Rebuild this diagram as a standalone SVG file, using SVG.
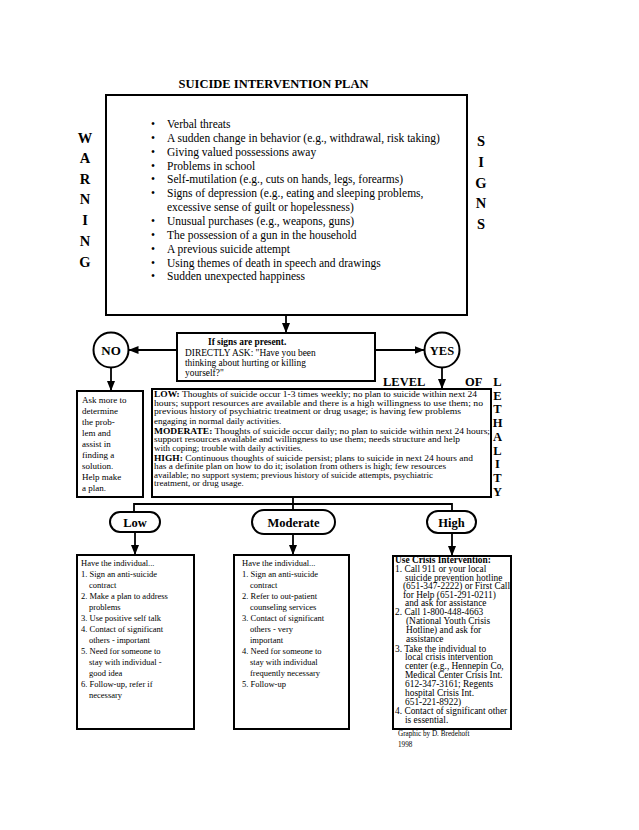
<svg xmlns="http://www.w3.org/2000/svg" width="639" height="830" viewBox="0 0 639 830">
<style>
text{font-family:"Liberation Serif","Times New Roman",serif;fill:#000}
.b{font-weight:bold}
.box{fill:#fff;stroke:#000;stroke-width:2}
.ln{fill:none;stroke:#000;stroke-width:1.8}
.big{font-size:14.5px;font-weight:bold;text-anchor:middle}
.sg{font-size:11.5px}
.q{font-size:9.4px}
.lt{font-size:9px}
.lv{font-size:12.5px;font-weight:bold}
.sm{font-size:8.5px}
.hi{font-size:9.4px}
.pl{font-size:12.5px;font-weight:bold;text-anchor:middle}
</style>
<defs>
<marker id="ah" viewBox="0 0 10 8" refX="10" refY="4" markerWidth="10" markerHeight="8" markerUnits="userSpaceOnUse" orient="auto">
<path d="M0,0 L10,4 L0,8 z" fill="#000"/>
</marker>
</defs>
<rect width="639" height="830" fill="#fff"/>
<text x="273.5" y="88" class="b" font-size="12.5" text-anchor="middle">SUICIDE INTERVENTION PLAN</text>

<g id="warning-signs">
<rect class="box" x="106" y="95" width="361" height="220"/>
<g class="sg">
<text x="151" y="128">•</text><text x="167" y="128">Verbal threats</text>
<text x="151" y="141.9">•</text><text x="167" y="141.9">A sudden change in behavior (e.g., withdrawal, risk taking)</text>
<text x="151" y="155.7">•</text><text x="167" y="155.7">Giving valued possessions away</text>
<text x="151" y="169.6">•</text><text x="167" y="169.6">Problems in school</text>
<text x="151" y="183.4">•</text><text x="167" y="183.4">Self-mutilation (e.g., cuts on hands, legs, forearms)</text>
<text x="151" y="197.3">•</text><text x="167" y="197.3">Signs of depression (e.g., eating and sleeping problems,</text>
<text x="167" y="211.1">excessive sense of guilt or hopelessness)</text>
<text x="151" y="225">•</text><text x="167" y="225">Unusual purchases (e.g., weapons, guns)</text>
<text x="151" y="238.8">•</text><text x="167" y="238.8">The possession of a gun in the household</text>
<text x="151" y="252.7">•</text><text x="167" y="252.7">A previous suicide attempt</text>
<text x="151" y="266.5">•</text><text x="167" y="266.5">Using themes of death in speech and drawings</text>
<text x="151" y="280.4">•</text><text x="167" y="280.4">Sudden unexpected happiness</text>
</g>
<g class="big">
<text x="85" y="143">W</text><text x="85" y="163">A</text><text x="85" y="183.5">R</text><text x="85" y="204">N</text><text x="85" y="225">I</text><text x="85" y="246">N</text><text x="85" y="267">G</text>
<text x="481" y="146">S</text><text x="481" y="167">I</text><text x="481" y="188">G</text><text x="481" y="208">N</text><text x="481" y="229">S</text>
</g>
</g>

<g id="connectors">
<line class="ln" x1="286" y1="315" x2="286" y2="333" marker-end="url(#ah)"/>
<line class="ln" x1="177" y1="350" x2="128.5" y2="350" marker-end="url(#ah)"/>
<line class="ln" x1="375" y1="350" x2="424.5" y2="350" marker-end="url(#ah)"/>
<line class="ln" x1="111" y1="367.5" x2="111" y2="391" marker-end="url(#ah)"/>
<line class="ln" x1="442" y1="367.5" x2="442" y2="389" marker-end="url(#ah)"/>
<polyline class="ln" points="293,497 293,510"/>
<polyline class="ln" points="134,512 134,504 452,504 452,511"/>
<line class="ln" x1="135" y1="532" x2="135" y2="555" marker-end="url(#ah)"/>
<line class="ln" x1="293" y1="534" x2="293" y2="555" marker-end="url(#ah)"/>
<line class="ln" x1="452" y1="533" x2="452" y2="556" marker-end="url(#ah)"/>
</g>

<g id="question">
<rect class="box" x="177" y="333" width="198" height="48"/>
<text x="208" y="345" class="q b">If signs are present.</text>
<text x="185" y="356" class="q">DIRECTLY ASK: "Have you been</text>
<text x="185" y="366" class="q">thinking about hurting or killing</text>
<text x="185" y="376" class="q">yourself?"</text>
</g>

<g id="no">
<circle cx="111" cy="350" r="17.5" fill="#fff" stroke="#000" stroke-width="2"/>
<text x="111" y="355" class="b" font-size="13" text-anchor="middle">NO</text>
</g>
<g id="yes">
<circle cx="442" cy="350" r="17.5" fill="#fff" stroke="#000" stroke-width="2"/>
<text x="442" y="355" class="b" font-size="12.5" text-anchor="middle">YES</text>
</g>

<g id="ask-more">
<rect class="box" x="77" y="391" width="66" height="106"/>
<g class="lt">
<text x="82" y="403">Ask more to</text>
<text x="82" y="414">determine</text>
<text x="82" y="425">the prob-</text>
<text x="82" y="436">lem and</text>
<text x="82" y="447">assist in</text>
<text x="82" y="458">finding a</text>
<text x="82" y="469">solution.</text>
<text x="82" y="480">Help make</text>
<text x="82" y="491">a plan.</text>
</g>
</g>

<g id="lethality">
<rect class="box" x="152" y="389" width="339" height="108"/>
<g class="lt">
<text x="154" y="397" textLength="323" lengthAdjust="spacingAndGlyphs"><tspan class="b">LOW:</tspan> Thoughts of suicide occur 1-3 times weekly; no plan to suicide within next 24</text>
<text x="154" y="405.5" textLength="329" lengthAdjust="spacingAndGlyphs">hours; support resources are available and there is a high willingness to use them; no</text>
<text x="154" y="414" textLength="307" lengthAdjust="spacingAndGlyphs">previous history of psychiatric treatment or drug usage; is having few problems</text>
<text x="154" y="423.5">engaging in normal daily activities.</text>
<text x="154" y="433.5" textLength="336" lengthAdjust="spacingAndGlyphs"><tspan class="b">MODERATE:</tspan> Thoughts of suicide occur daily; no plan to suicide within next 24 hours;</text>
<text x="154" y="442" textLength="306" lengthAdjust="spacingAndGlyphs">support resources available and willingness to use them; needs structure and help</text>
<text x="154" y="451">with coping; trouble with daily activities.</text>
<text x="154" y="460.5" textLength="319" lengthAdjust="spacingAndGlyphs"><tspan class="b">HIGH:</tspan> Continuous thoughts of suicide persist; plans to suicide in next 24 hours and</text>
<text x="154" y="469" textLength="292" lengthAdjust="spacingAndGlyphs">has a definite plan on how to do it; isolation from others is high; few resources</text>
<text x="154" y="477.5" textLength="279" lengthAdjust="spacingAndGlyphs">available; no support system; previous history of suicide attempts, psychiatric</text>
<text x="154" y="486">treatment, or drug usage.</text>
</g>
<text x="383" y="386" class="lv">LEVEL</text>
<text x="465" y="386" class="lv">OF</text>
<g class="lv" text-anchor="middle">
<text x="497.5" y="386">L</text><text x="497.5" y="399.5">E</text><text x="497.5" y="413">T</text><text x="497.5" y="427">H</text><text x="497.5" y="441">A</text><text x="497.5" y="454.5">L</text><text x="497.5" y="468">I</text><text x="497.5" y="482">T</text><text x="497.5" y="496">Y</text>
</g>
</g>

<g id="low">
<rect class="box" x="110" y="512" width="50" height="20" rx="10"/>
<text x="135" y="527" class="pl">Low</text>
</g>
<g id="moderate">
<rect class="box" x="252" y="510" width="83" height="24" rx="12"/>
<text x="293.5" y="527" class="pl">Moderate</text>
</g>
<g id="high">
<rect class="box" x="427" y="511" width="49" height="22" rx="11"/>
<text x="451.5" y="526.5" class="pl">High</text>
</g>

<g id="low-actions">
<rect class="box" x="77" y="555" width="117" height="174"/>
<g class="sm">
<text x="81" y="566">Have the individual...</text>
<text x="81" y="577">1. Sign an anti-suicide</text>
<text x="89" y="588">contract</text>
<text x="81" y="599">2. Make a plan to address</text>
<text x="89" y="610">problems</text>
<text x="81" y="621">3. Use positive self talk</text>
<text x="81" y="632">4. Contact of significant</text>
<text x="89" y="643">others - important</text>
<text x="81" y="654">5. Need for someone to</text>
<text x="89" y="665">stay with individual -</text>
<text x="89" y="676">good idea</text>
<text x="81" y="687">6. Follow-up, refer if</text>
<text x="89" y="698">necessary</text>
</g>
</g>

<g id="moderate-actions">
<rect class="box" x="234" y="555" width="115" height="174"/>
<g class="sm">
<text x="242" y="566">Have the individual...</text>
<text x="242" y="577">1. Sign an anti-suicide</text>
<text x="250" y="588">contract</text>
<text x="242" y="599">2. Refer to out-patient</text>
<text x="250" y="610">counseling services</text>
<text x="242" y="621">3. Contact of significant</text>
<text x="250" y="632">others - very</text>
<text x="250" y="643">important</text>
<text x="242" y="654">4. Need for someone to</text>
<text x="250" y="665">stay with individual</text>
<text x="250" y="676">frequently necessary</text>
<text x="242" y="687">5. Follow-up</text>
</g>
</g>

<g id="high-actions">
<rect class="box" x="393" y="556" width="118" height="173"/>
<g class="hi">
<text x="395" y="563" class="b">Use Crisis Intervention:</text>
<text x="395" y="572">1. Call 911 or your local</text>
<text x="405" y="580.5">suicide prevention hotline</text>
<text x="403" y="589">(651-347-2222) or First Call</text>
<text x="403" y="597.5">for Help (651-291-0211)</text>
<text x="405" y="606">and ask for assistance</text>
<text x="395" y="615">2. Call 1-800-448-4663</text>
<text x="406" y="624">(National Youth Crisis</text>
<text x="406" y="633">Hotline) and ask for</text>
<text x="406" y="642">assistance</text>
<text x="395" y="651.5">3. Take the individual to</text>
<text x="405" y="660">local crisis intervention</text>
<text x="405" y="669">center (e.g., Hennepin Co,</text>
<text x="405" y="678">Medical Center Crisis Int.</text>
<text x="405" y="687">612-347-3161; Regents</text>
<text x="405" y="695.5">hospital Crisis Int.</text>
<text x="405" y="704.5">651-221-8922)</text>
<text x="395" y="714">4. Contact of significant other</text>
<text x="405" y="723">is essential.</text>
</g>
</g>

<text x="398" y="736" font-size="7.2">Graphic by D. Bredehoft</text>
<text x="398" y="747" font-size="7.2">1998</text>
</svg>
